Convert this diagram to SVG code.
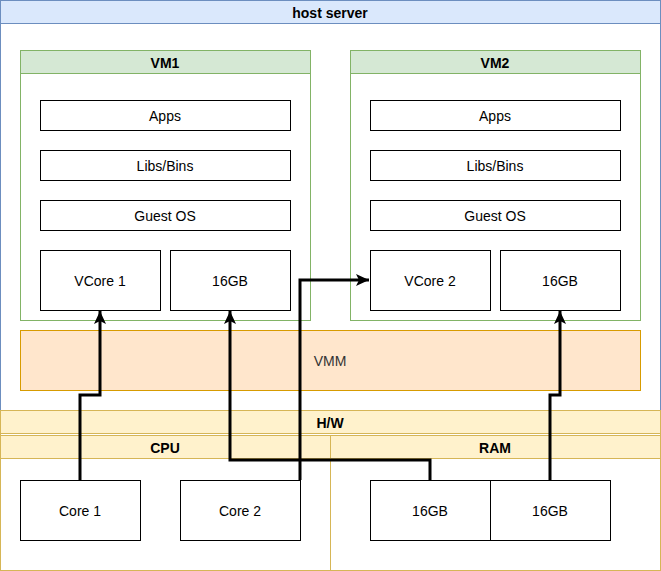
<svg xmlns="http://www.w3.org/2000/svg" width="661" height="571" viewBox="0 0 661 571">
<defs>
<style>
text{font-family:"Liberation Sans",Arial,sans-serif;font-size:14px;fill:#000;text-anchor:middle;dominant-baseline:central}
.b{font-weight:bold}
.box{fill:#fff;stroke:#000;stroke-width:1}
.vmh{fill:#d5e8d4;stroke:#82b366}
.vmb{fill:#fff;stroke:#82b366}
.hw{fill:#fff2cc;stroke:#d6b656}
.hwb{fill:#fff;stroke:#d6b656}
.conn{fill:none;stroke:#000;stroke-width:3}
</style>
<marker id="arrow" markerWidth="14" markerHeight="14" refX="13" refY="7" orient="auto" markerUnits="userSpaceOnUse" viewBox="0 0 14 14">
<path d="M0,1 L13,7 L0,13 L3,7 Z" fill="#000"/>
</marker>
</defs>
<rect width="661" height="571" fill="#fff"/>
<g id="host">
<rect x="0.5" y="0.5" width="660" height="410" fill="#fff" stroke="#6c8ebf"/>
<rect x="0.5" y="0.5" width="660" height="23" fill="#dae8fc" stroke="#6c8ebf"/>
<text class="b" x="330" y="13">host server</text>
</g>
<g id="vm1">
<rect class="vmb" x="20.5" y="50.5" width="290" height="270"/>
<rect class="vmh" x="20.5" y="50.5" width="290" height="23"/>
<text class="b" x="165" y="63">VM1</text>
</g>
<g id="vm1-apps"><rect class="box" x="40.5" y="100.5" width="250" height="30"/><text x="165" y="116">Apps</text></g>
<g id="vm1-libs"><rect class="box" x="40.5" y="150.5" width="250" height="30"/><text x="165" y="166">Libs/Bins</text></g>
<g id="vm1-os"><rect class="box" x="40.5" y="200.5" width="250" height="30"/><text x="165" y="216">Guest OS</text></g>
<g id="vm1-vcore"><rect class="box" x="40.5" y="250.5" width="120" height="60"/><text x="100" y="281">VCore 1</text></g>
<g id="vm1-mem"><rect class="box" x="170.5" y="250.5" width="120" height="60"/><text x="230" y="281">16GB</text></g>
<g id="vm2">
<rect class="vmb" x="350.5" y="50.5" width="290" height="270"/>
<rect class="vmh" x="350.5" y="50.5" width="290" height="23"/>
<text class="b" x="495" y="63">VM2</text>
</g>
<g id="vm2-apps"><rect class="box" x="370.5" y="100.5" width="250" height="30"/><text x="495" y="116">Apps</text></g>
<g id="vm2-libs"><rect class="box" x="370.5" y="150.5" width="250" height="30"/><text x="495" y="166">Libs/Bins</text></g>
<g id="vm2-os"><rect class="box" x="370.5" y="200.5" width="250" height="30"/><text x="495" y="216">Guest OS</text></g>
<g id="vm2-vcore"><rect class="box" x="370.5" y="250.5" width="120" height="60"/><text x="430" y="281">VCore 2</text></g>
<g id="vm2-mem"><rect class="box" x="500.5" y="250.5" width="120" height="60"/><text x="560" y="281">16GB</text></g>
<g id="vmm"><rect x="20.5" y="330.5" width="620" height="60" fill="#ffe6cc" stroke="#d79b00"/><text x="330" y="361" style="fill:#333">VMM</text></g>
<g id="hw">
<rect class="hwb" x="0.5" y="410.5" width="660" height="160"/>
<rect class="hw" x="0.5" y="410.5" width="660" height="23"/>
<text class="b" x="330" y="423">H/W</text>
</g>
<g id="cpu">
<rect class="hwb" x="0.5" y="435.5" width="330" height="135"/>
<rect class="hw" x="0.5" y="435.5" width="330" height="23"/>
<text class="b" x="165" y="448">CPU</text>
</g>
<g id="ram">
<rect class="hwb" x="330.5" y="435.5" width="330" height="135"/>
<rect class="hw" x="330.5" y="435.5" width="330" height="23"/>
<text class="b" x="495" y="448">RAM</text>
</g>
<g id="core1"><rect class="box" x="20.5" y="480.5" width="120" height="60"/><text x="80" y="511">Core 1</text></g>
<g id="core2"><rect class="box" x="180.5" y="480.5" width="120" height="60"/><text x="240" y="511">Core 2</text></g>
<g id="ram1"><rect class="box" x="370.5" y="480.5" width="120" height="60"/><text x="430" y="511">16GB</text></g>
<g id="ram2"><rect class="box" x="490.5" y="480.5" width="120" height="60"/><text x="550" y="511">16GB</text></g>
<g id="connectors">
<path class="conn" d="M80,480 V395 H100 V311" marker-end="url(#arrow)"/>
<path class="conn" d="M300,480 V280 H369" marker-end="url(#arrow)"/>
<path class="conn" d="M430,480 V460 H230 V311" marker-end="url(#arrow)"/>
<path class="conn" d="M550,480 V395 H560 V311" marker-end="url(#arrow)"/>
</g>
</svg>
